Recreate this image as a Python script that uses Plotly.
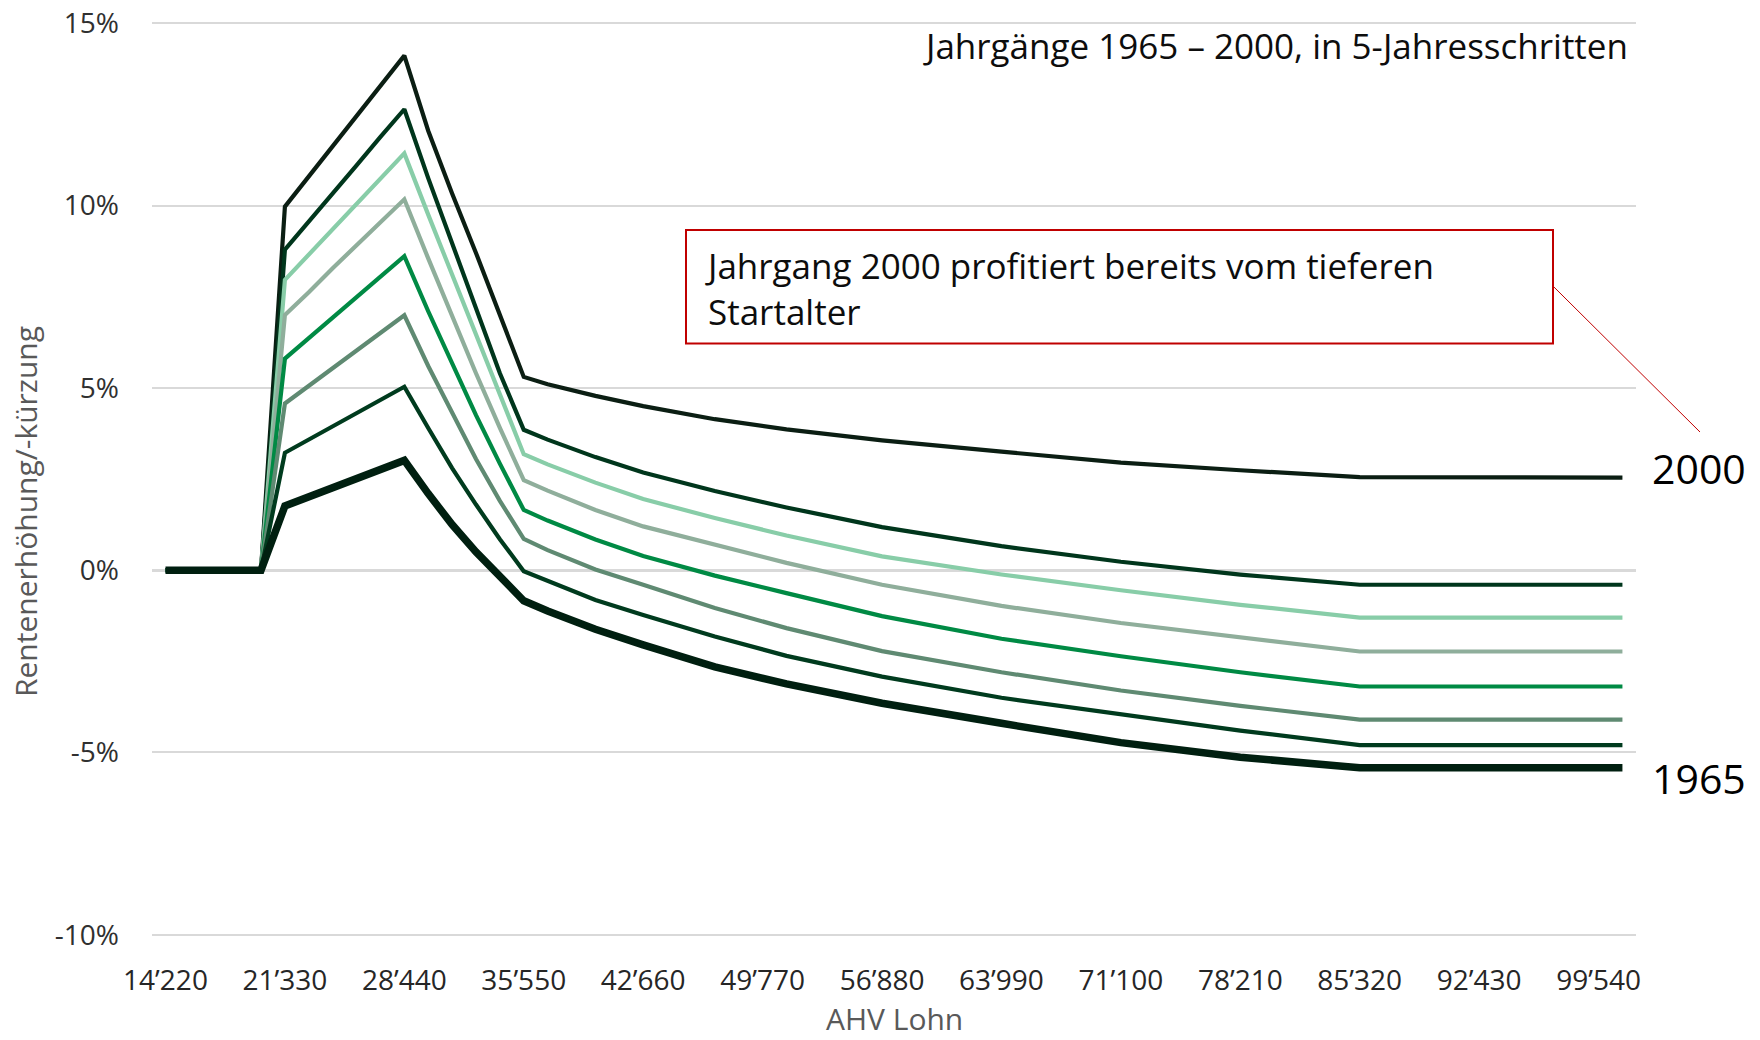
import plotly.graph_objects as go

# AHV Lohn (x values, CHF)
ahv_lohn = [14220, 19908, 21330, 22752, 24174, 25596, 27018, 28440, 29862, 31284,
            32706, 34128, 35550, 36972, 39816, 42660, 46926, 51192, 56880, 63990,
            71100, 78210, 85320, 100962]

# Rentenerhöhung/-kürzung in % per Jahrgang
jg_2000 = [0, 0, 9.97, 10.8, 11.65, 12.45, 13.3, 14.11, 12.05, 10.33, 8.7, 7.0, 5.3,
           5.1, 4.78, 4.5, 4.14, 3.86, 3.56, 3.25, 2.95, 2.74, 2.55, 2.54]
jg_1995 = [0, 0, 8.79, 9.55, 10.35, 11.1, 11.88, 12.64, 10.75, 8.95, 7.15, 5.4, 3.85,
           3.58, 3.1, 2.68, 2.17, 1.72, 1.18, 0.66, 0.23, -0.12, -0.4, -0.4]
jg_1990 = [0, 0, 7.96, 8.65, 9.36, 10.04, 10.75, 11.43, 9.75, 8.1, 6.45, 4.8, 3.18,
           2.9, 2.4, 1.95, 1.43, 0.95, 0.38, -0.12, -0.55, -0.95, -1.3, -1.3]
jg_1985 = [0, 0, 7.0, 7.62, 8.28, 8.9, 9.55, 10.17, 8.55, 6.95, 5.4, 3.9, 2.47,
           2.18, 1.65, 1.2, 0.7, 0.2, -0.4, -0.98, -1.45, -1.85, -2.23, -2.23]
jg_1980 = [0, 0, 5.8, 6.36, 6.93, 7.48, 8.06, 8.61, 7.1, 5.65, 4.25, 2.92, 1.65,
           1.36, 0.84, 0.39, -0.15, -0.63, -1.26, -1.88, -2.36, -2.8, -3.19, -3.19]
jg_1975 = [0, 0, 4.57, 5.05, 5.55, 6.02, 6.52, 6.99, 5.6, 4.3, 3.05, 1.9, 0.86,
           0.55, 0.02, -0.4, -1.04, -1.59, -2.22, -2.8, -3.3, -3.72, -4.1, -4.1]
jg_1970 = [0, 0, 3.22, 3.58, 3.95, 4.31, 4.68, 5.03, 3.9, 2.8, 1.8, 0.85, -0.03,
           -0.3, -0.82, -1.23, -1.82, -2.35, -2.92, -3.5, -3.95, -4.4, -4.8, -4.8]
jg_1965 = [0, 0, 1.76, 2.01, 2.27, 2.51, 2.77, 3.01, 2.1, 1.25, 0.5, -0.2, -0.84,
           -1.12, -1.62, -2.05, -2.65, -3.12, -3.65, -4.2, -4.73, -5.13, -5.42, -5.42]

series_names = ["2000", "1995", "1990", "1985", "1980", "1975", "1970", "1965"]
series_values = [jg_2000, jg_1995, jg_1990, jg_1985, jg_1980, jg_1975, jg_1970, jg_1965]
series_colors = ["#0b1e13", "#00361c", "#88cda8", "#8fae9b", "#008a44", "#5f8a72", "#003b1e", "#001f10"]
series_widths = [4.2, 4.2, 4.2, 4.2, 4.2, 4.2, 4.2, 7.5]

x_tickvals = [14220, 21330, 28440, 35550, 42660, 49770, 56880, 63990, 71100, 78210, 85320, 92430, 99540]
x_ticktext = ["14’220", "21’330", "28’440", "35’550", "42’660", "49’770", "56’880",
              "63’990", "71’100", "78’210", "85’320", "92’430", "99’540"]
y_tickvals = [-10, -5, 0, 5, 10, 15]
y_ticktext = ["-10%", "-5%", "0%", "5%", "10%", "15%"]

FONT = "Open Sans"

fig = go.Figure()
for name, vals, col, w in zip(series_names, series_values, series_colors, series_widths):
    fig.add_trace(go.Scatter(x=ahv_lohn, y=vals, mode="lines", name=name,
                             line=dict(color=col, width=w), showlegend=False))

PAD = 0.06        # small y padding so end gridlines are drawn
PXP = 36.5        # pixels per percent
# plot-area geometry in page pixels
L, R = 152, 1636
T, B = 23 - PAD * PXP, 935 + PAD * PXP
W, H = 1760, 1040


def px(x):
    return (x - L) / (R - L)


def py(y):
    return (B - y) / (B - T)


fig.update_layout(
    width=W, height=H,
    margin=dict(l=L, r=W - R, t=T, b=H - B, autoexpand=False),
    paper_bgcolor="white", plot_bgcolor="white",
    font=dict(family=FONT, color="#262626"),
    xaxis=dict(range=[13417, 101770], tickmode="array", tickvals=x_tickvals,
               ticktext=x_ticktext, showgrid=False, zeroline=False, showline=False,
               ticks="", automargin=False, ticklabeloverflow="allow",
               tickfont=dict(size=28, color="#262626"), ticklabelstandoff=24),
    yaxis=dict(range=[-10 - PAD, 15 + PAD], tickmode="array", tickvals=y_tickvals,
               ticktext=y_ticktext,
               showgrid=True, gridcolor="#d9d9d9", gridwidth=2,
               zeroline=True, zerolinecolor="#d9d9d9", zerolinewidth=3,
               showline=False, ticks="", automargin=False, ticklabeloverflow="allow",
               tickfont=dict(size=28, color="#303030"), ticklabelstandoff=32),
)

annotations = [
    dict(text="AHV Lohn", xref="paper", yref="paper", x=0.5, y=py(1019),
         xanchor="center", yanchor="middle", showarrow=False,
         font=dict(size=30, color="#595959")),
    dict(text="Rentenerhöhung/-kürzung", xref="paper", yref="paper", x=px(26), y=py(512),
         xanchor="center", yanchor="middle", textangle=-90, showarrow=False,
         font=dict(size=30, color="#595959")),
    dict(text="Jahrgänge 1965 – 2000, in 5-Jahresschritten", xref="paper", yref="paper",
         x=px(1630), y=py(45), xanchor="right", yanchor="middle", showarrow=False,
         font=dict(size=35, color="#0d0d0d")),
    dict(text="Jahrgang 2000 profitiert bereits vom tieferen<br>Startalter", xref="paper",
         yref="paper", x=px(703), y=py(288), xanchor="left", yanchor="middle",
         align="left", showarrow=False, font=dict(size=35, color="#0d0d0d")),
    dict(text="2000", xref="paper", yref="y", x=px(1650), y=jg_2000[-1], yshift=10,
         xanchor="left", yanchor="middle", showarrow=False,
         font=dict(size=41, color="#000000")),
    dict(text="1965", xref="paper", yref="y", x=px(1650), y=jg_1965[-1], yshift=-10,
         xanchor="left", yanchor="middle", showarrow=False,
         font=dict(size=41, color="#000000")),
]
fig.update_layout(annotations=annotations)

fig.add_shape(type="rect", xref="paper", yref="paper",
              x0=px(686), x1=px(1553), y0=py(343.5), y1=py(230),
              line=dict(color="#c00000", width=2), fillcolor="white", layer="above")
fig.add_shape(type="line", xref="paper", yref="paper",
              x0=px(1553), y0=py(286), x1=px(1700), y1=py(432),
              line=dict(color="#c00000", width=1))

# remove the default page margin so the figure sits at the window's top-left corner
fig.write_html("out.html", config={"displayModeBar": False},
               post_script="document.body.style.margin='0px';document.body.style.overflow='hidden';")
